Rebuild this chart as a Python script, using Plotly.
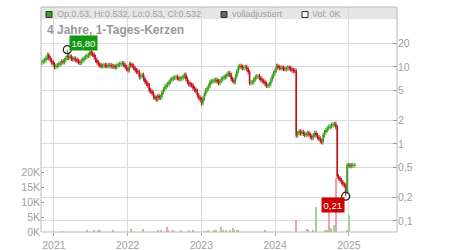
import math
import plotly.graph_objects as go
import pandas as pd

# ---------------- data ----------------
week_start = "2020-11-02"
close = [
    11.6, 12.0, 12.3, 13.2, 14.3, 13.0, 12.3, 11.5, 10.9, 10.0,
    10.3, 10.6, 10.9, 11.2, 11.8, 11.6, 12.3, 13.1, 14.0, 13.2,
    13.6, 12.9, 12.6, 12.8, 12.3, 12.0, 11.6, 11.4, 12.0, 12.6,
    13.1, 13.6, 14.0, 14.3, 15.7, 15.0, 14.5, 13.5, 12.3, 11.5,
    10.9, 10.5, 10.3, 10.4, 10.6, 10.4, 10.3, 10.5, 10.6, 10.2,
    10.3, 10.1, 10.0, 10.4, 10.7, 10.9, 11.0, 11.2, 10.6, 10.0,
    9.5, 9.1, 10.9, 10.5, 10.3, 9.7, 9.1, 8.8, 8.6, 7.4,
    7.7, 7.9, 7.0, 6.4, 6.1, 5.8, 5.0, 4.8, 4.6, 4.1,
    4.0, 3.8, 4.2, 4.0, 4.1, 4.7, 5.1, 5.5, 5.8, 6.0,
    6.4, 6.8, 7.0, 7.2, 7.3, 7.4, 7.2, 7.0, 7.1, 7.2,
    7.6, 7.9, 7.0, 6.4, 6.0, 5.9, 5.8, 5.3, 5.1, 4.9,
    4.3, 4.0, 3.8, 3.4, 3.9, 4.5, 5.0, 5.3, 5.7, 6.4,
    6.5, 6.6, 6.7, 6.8, 6.5, 6.2, 6.6, 7.0, 7.2, 7.4,
    7.6, 8.0, 8.3, 7.9, 7.0, 6.7, 6.4, 7.6, 8.8, 10.0,
    10.3, 10.0, 9.7, 9.9, 10.0, 9.4, 8.6, 6.2, 6.3, 6.4,
    6.9, 7.4, 7.5, 7.6, 7.2, 6.8, 6.6, 6.4, 6.0, 5.7,
    5.8, 6.0, 6.8, 7.6, 8.4, 9.1, 10.3, 10.0, 9.7, 9.8,
    9.7, 9.5, 9.4, 9.6, 9.8, 9.7, 9.4, 9.1, 9.0, 8.9,
    1.30, 1.39, 1.45, 1.38, 1.43, 1.36, 1.31, 1.35, 1.39, 1.32,
    1.25, 1.20, 1.30, 1.39, 1.30, 1.23, 1.18, 1.10, 1.06, 1.31,
    1.42, 1.52, 1.60, 1.66, 1.70, 1.76, 1.80, 1.82, 1.66, 0.38,
    0.36, 0.34, 0.32, 0.30, 0.29, 0.24, 0.53, 0.53, 0.52, 0.53,
    0.53, 0.53, 0.532,
]
first_open = 11.4
last_ohlc = (0.53, 0.532, 0.53, 0.532)
max_point = (18, 16.80)    # week index, high
min_point = (215, 0.21)    # week index, low

vol_dates = [
    "2021-02-08", "2021-06-13", "2021-07-19", "2021-08-08", "2021-08-18",
    "2021-10-20", "2022-01-17", "2022-03-20", "2022-05-30", "2022-06-14",
    "2022-07-14", "2022-07-22", "2022-08-14", "2022-09-23", "2022-11-02",
    "2022-11-22", "2023-01-20", "2023-02-01", "2023-03-07", "2023-03-13",
    "2023-04-07", "2023-04-20", "2023-05-03", "2023-05-21", "2023-06-05",
    "2023-06-12", "2023-06-25", "2023-07-01", "2023-11-12", "2024-04-16",
    "2024-06-08", "2024-06-12", "2024-07-07", "2024-07-20", "2024-09-03",
    "2024-09-16", "2024-09-23", "2024-10-06", "2024-10-19", "2024-10-31",
    "2024-12-24", "2025-01-01",
]
vol_values = [
    300, 400, 400, 400, 400,
    400, 1000, 900, 500, 500,
    1800, 700, 400, 600, 700,
    400, 300, 500, 500, 500,
    1700, 500, 600, 400, 1200,
    800, 400, 400, 400, 4000,
    1000, 700, 800, 8300, 500,
    800, 6700, 1500, 2200, 18000,
    700, 5700,
]
vol_up = [
    1, 1, 0, 1, 0,
    1, 1, 1, 0, 1,
    0, 0, 0, 1, 1,
    0, 1, 0, 0, 1,
    1, 0, 1, 0, 1,
    1, 0, 0, 0, 0,
    0, 0, 1, 1, 1,
    1, 0, 1, 1, 0,
    1, 1,
]

year_ticks = ["2021-01-01", "2022-01-01", "2023-01-01", "2024-01-01", "2025-01-01"]
year_labels = ["2021", "2022", "2023", "2024", "2025"]
price_ticks = [0.1, 0.2, 0.5, 1, 2, 5, 10, 20]
price_labels = ["0,1", "0,2", "0,5", "1", "2", "5", "10", "20"]
vol_ticks = [0, 5000, 10000, 15000, 20000]
vol_labels = ["0K", "5K", "10K", "15K", "20K"]

# ---------------- build OHLC ----------------
dates = pd.date_range(week_start, periods=len(close), freq="7D")
opn = [first_open] + close[:-1]
high = [max(o, c) * 1.07 for o, c in zip(opn, close)]
low = [min(o, c) * 0.93 for o, c in zip(opn, close)]
high[max_point[0]] = max_point[1]
low[min_point[0]] = min_point[1]
opn[-1], high[-1], low[-1], close[-1] = last_ohlc

GREEN = "#3c9f1c"
RED = "#c4101a"
FONT = "Liberation Sans, Arial, sans-serif"
GRID = "#dcdcdc"
TXT = "#a0a0a0"

fig = go.Figure()

fig.add_trace(go.Bar(
    x=pd.to_datetime(vol_dates), y=vol_values,
    marker=dict(color=["#9ed68c" if u else "#f0a2aa" for u in vol_up], line_width=0),
    width=5 * 86400000, yaxis="y", hoverinfo="skip",
))

fig.add_trace(go.Candlestick(
    x=dates, open=opn, high=high, low=low, close=close, yaxis="y2",
    increasing=dict(line=dict(color=GREEN, width=1), fillcolor=GREEN),
    decreasing=dict(line=dict(color=RED, width=1), fillcolor=RED),
    hoverinfo="skip",
))

# max / min markers
fig.add_trace(go.Scatter(
    x=[dates[max_point[0]], dates[min_point[0]]], y=[max_point[1], min_point[1]],
    yaxis="y2", mode="markers",
    marker=dict(symbol="circle-open", size=8, color="#222", line=dict(width=1.2)),
    hoverinfo="skip",
))

L, R, T, B = 41, 53, 7, 18
W, H = 450, 250
pw, ph = W - L - R, H - T - B


def px(x):
    return (x - L) / pw


def py(y):
    return (H - B - y) / ph


shapes = [
    dict(type="rect", xref="paper", yref="paper", x0=0, x1=1, y0=py(19), y1=1,
         fillcolor="#e6e6e6", line_width=0, layer="below"),
    dict(type="rect", xref="paper", yref="paper", x0=0, x1=1, y0=0, y1=1,
         line=dict(color="#b8b8b8", width=1), fillcolor="rgba(0,0,0,0)", layer="above"),
    dict(type="rect", xref="paper", yref="paper", x0=px(46), x1=px(52), y0=py(17.5), y1=py(11.5),
         fillcolor=GREEN, line=dict(color="#333", width=1)),
    dict(type="rect", xref="paper", yref="paper", x0=px(221), x1=px(227), y0=py(17.5), y1=py(11.5),
         fillcolor="#666", line=dict(color="#333", width=1)),
    dict(type="rect", xref="paper", yref="paper", x0=px(302), x1=px(308), y0=py(17.5), y1=py(11.5),
         fillcolor="#f8f8f8", line=dict(color="#333", width=1)),
]

o, h, l, c = last_ohlc
annotations = [
    dict(xref="paper", yref="paper", x=px(55), y=py(14.5), xanchor="left", yanchor="middle",
         text=f"Op:{o}, Hi:{h}, Lo:{l}, Cl:{c}", showarrow=False,
         font=dict(family=FONT, size=9, color=TXT)),
    dict(xref="paper", yref="paper", x=px(229.5), y=py(14.5), xanchor="left", yanchor="middle",
         text="volladjustiert", showarrow=False, font=dict(family=FONT, size=9, color=TXT)),
    dict(xref="paper", yref="paper", x=px(310), y=py(14.5), xanchor="left", yanchor="middle",
         text="Vol: 0K", showarrow=False, font=dict(family=FONT, size=9, color=TXT)),
    dict(xref="paper", yref="paper", x=px(45), y=py(30), xanchor="left", yanchor="middle",
         text="<b>4 Jahre, 1-Tages-Kerzen</b>", showarrow=False,
         font=dict(family=FONT, size=12, color="#999999")),
    dict(x=dates[max_point[0]], y=math.log10(max_point[1]), xref="x", yref="y2",
         text=f"{max_point[1]:.2f}".replace(".", ","), showarrow=False,
         xshift=16.5, yshift=7, bgcolor="#129912", borderpad=1.5,
         font=dict(family=FONT, size=9.5, color="white")),
    dict(x=dates[min_point[0]], y=math.log10(min_point[1]), xref="x", yref="y2",
         text=f"{min_point[1]:.2f}".replace(".", ","), showarrow=False,
         xshift=-13, yshift=-9, bgcolor="#cc0000", borderpad=1.5,
         font=dict(family=FONT, size=9.5, color="white")),
]

fig.update_layout(
    width=W, height=H, margin=dict(l=L, r=R, t=T, b=B),
    paper_bgcolor="white", plot_bgcolor="white", showlegend=False,
    font=dict(family=FONT, size=10.5, color=TXT),
    shapes=shapes, annotations=annotations, bargap=0,
    xaxis=dict(type="date", range=["2020-10-29", "2025-08-27"],
               tickvals=year_ticks, ticktext=year_labels, automargin=False,
               ticks="outside", ticklen=3, tickcolor="#aaa",
               showgrid=True, gridcolor=GRID, gridwidth=1,
               showline=False, zeroline=False, rangeslider=dict(visible=False),
               tickfont=dict(family=FONT, size=10.5, color=TXT)),
    yaxis=dict(side="left", range=[0, 75000], tickvals=vol_ticks, ticktext=vol_labels,
               automargin=False,
               ticks="inside", ticklen=3, tickcolor="#999", showgrid=False,
               zeroline=False, showline=False,
               tickfont=dict(family=FONT, size=10.5, color=TXT)),
    yaxis2=dict(side="right", overlaying="y", type="log", range=[-1.143, 1.779],
                tickvals=price_ticks, ticktext=price_labels, automargin=False,
                ticks="inside", ticklen=4, tickcolor="#999",
                showgrid=True, gridcolor=GRID, gridwidth=1,
                zeroline=False, showline=False,
                tickfont=dict(family=FONT, size=10.5, color=TXT)),
)

fig.write_html("out.html")
